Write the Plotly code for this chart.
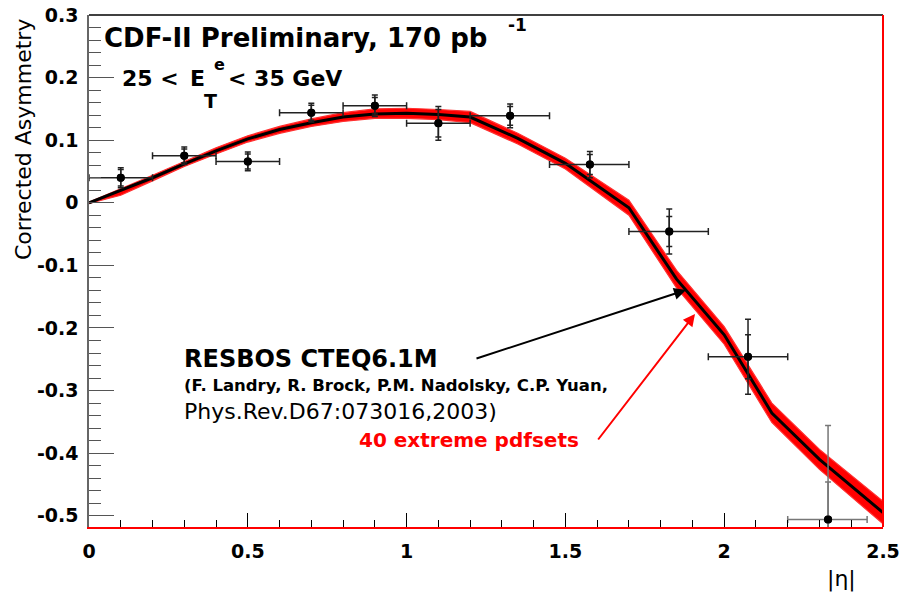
import plotly.graph_objects as go

# ---------------- data ----------------
eta_pts = [0.1, 0.3, 0.5, 0.7, 0.9, 1.1, 1.326, 1.577, 1.827, 2.075, 2.327]
asym_pts = [0.040, 0.075, 0.066, 0.144, 0.155, 0.127, 0.139, 0.061, -0.046, -0.246, -0.506]
bin_lo = [0.0, 0.2, 0.4, 0.6, 0.8, 1.0, 1.2, 1.45, 1.70, 1.95, 2.20]
bin_hi = [0.2, 0.4, 0.6, 0.8, 1.0, 1.2, 1.45, 1.70, 1.95, 2.20, 2.45]
err_tot = [0.016, 0.014, 0.015, 0.015, 0.017, 0.027, 0.019, 0.021, 0.036, 0.060, 0.150]
err_stat = [0.013, 0.011, 0.012, 0.012, 0.013, 0.022, 0.015, 0.016, 0.024, 0.035, 0.060]

curve_eta = [0, 0.1, 0.2, 0.3, 0.4, 0.5, 0.6, 0.7, 0.8, 0.9, 1.0, 1.1, 1.2, 1.35, 1.5, 1.7, 1.85, 2.0, 2.15, 2.3, 2.5]
resbos = [0.0, 0.020, 0.040, 0.062, 0.083, 0.102, 0.117, 0.128, 0.137, 0.142, 0.143, 0.141, 0.137,
          0.103, 0.063, -0.008, -0.122, -0.211, -0.336, -0.410, -0.495]
pdf_upper = [0.001, 0.022, 0.044, 0.066, 0.088, 0.107, 0.122, 0.134, 0.144, 0.150, 0.151, 0.149, 0.146,
             0.111, 0.071, 0.004, -0.108, -0.198, -0.320, -0.394, -0.477]
pdf_lower = [-0.001, 0.012, 0.035, 0.058, 0.078, 0.097, 0.111, 0.122, 0.130, 0.135, 0.135, 0.133, 0.128,
             0.094, 0.054, -0.020, -0.136, -0.226, -0.351, -0.426, -0.513]

xticks = [0, 0.5, 1, 1.5, 2, 2.5]
xtick_text = ["0", "0.5", "1", "1.5", "2", "2.5"]
yticks = [0.3, 0.2, 0.1, 0, -0.1, -0.2, -0.3, -0.4, -0.5]
ytick_text = ["0.3", "0.2", "0.1", "0", "-0.1", "-0.2", "-0.3", "-0.4", "-0.5"]

# ---------------- layout geometry ----------------
W, H = 900, 595
L, R, T, B = 89, 883, 15, 527


def px(x):
    return (x - L) / (R - L)


def py(y):
    return (B - y) / (B - T)


FAM = "DejaVu Sans"
fig = go.Figure()

# red band of 40 pdf sets
fig.add_trace(go.Scatter(x=curve_eta, y=pdf_lower, mode="lines",
                         line=dict(color="#ff3030", width=1.2), showlegend=False, hoverinfo="skip"))
fig.add_trace(go.Scatter(x=curve_eta, y=pdf_upper, mode="lines", fill="tonexty",
                         fillcolor="#ff0000",
                         line=dict(color="#ff3030", width=1.2), showlegend=False, hoverinfo="skip"))
# central RESBOS curve
fig.add_trace(go.Scatter(x=curve_eta, y=resbos, mode="lines",
                         line=dict(color="black", width=3), showlegend=False, hoverinfo="skip"))

# data points
xm = [e - lo for e, lo in zip(eta_pts, bin_lo)]
xp = [hi - e for e, hi in zip(eta_pts, bin_hi)]
n_dark = 10
for sl, col in [(slice(0, n_dark), "#222222"), (slice(n_dark, None), "#777777")]:
    fig.add_trace(go.Scatter(
        x=eta_pts[sl], y=asym_pts[sl], mode="markers",
        marker=dict(color="black", size=8),
        error_x=dict(type="data", array=xp[sl], arrayminus=xm[sl], symmetric=False,
                     color=col, thickness=1.5, width=3.5),
        error_y=dict(type="data", array=err_tot[sl], color=col, thickness=1.5, width=3),
        showlegend=False, hoverinfo="skip", cliponaxis=True))
    fig.add_trace(go.Scatter(
        x=eta_pts[sl], y=asym_pts[sl], mode="markers",
        marker=dict(color="black", size=8),
        error_y=dict(type="data", array=err_stat[sl], color=col, thickness=1.5, width=3),
        showlegend=False, hoverinfo="skip", cliponaxis=True))

ann = []


def text(t, x, y, size, color="black", anchor="left", bold=True):
    ann.append(dict(text=t, x=px(x), y=py(y), xref="paper", yref="paper",
                    xanchor=anchor, yanchor="middle", showarrow=False, borderpad=0,
                    font=dict(family=FAM, size=size, color=color,
                              weight="bold" if bold else "normal")))


text("CDF-II Preliminary, 170 pb", 103, 38, 26)
text("-1", 507, 25, 17)
text("25 <", 121, 78, 22)
text("E", 189, 78, 22)
text("e", 219, 64, 16, anchor="center")
text("T", 210, 101, 19, anchor="center")
text("< 35 GeV", 227, 78, 22)
text("RESBOS CTEQ6.1M", 183, 359, 24)
text("(F. Landry, R. Brock, P.M. Nadolsky, C.P. Yuan,", 183, 385, 16.5)
text("Phys.Rev.D67:073016,2003)", 183, 411, 22, bold=False)
text("40 extreme pdfsets", 358, 440, 20, color="#ff0000")
text("|η|", 841, 579, 22, anchor="center", bold=False)

ann.append(dict(text="Corrected Asymmetry", x=px(23), y=py(140), xref="paper", yref="paper",
                xanchor="center", yanchor="middle", showarrow=False, textangle=-90,
                font=dict(family=FAM, size=22, color="black")))

# arrows
ann.append(dict(text="", x=px(686), y=py(290), xref="paper", yref="paper",
                ax=475 - 686, ay=359 - 290, showarrow=True, arrowhead=2, arrowsize=1.2,
                arrowwidth=2, arrowcolor="black"))
ann.append(dict(text="", x=px(695), y=py(314), xref="paper", yref="paper",
                ax=597 - 695, ay=441 - 314, showarrow=True, arrowhead=2, arrowsize=1.2,
                arrowwidth=2, arrowcolor="#ff0000"))

fig.update_layout(
    width=W, height=H,
    margin=dict(l=L, r=W - R, t=T, b=H - B, pad=0, autoexpand=False),
    paper_bgcolor="white", plot_bgcolor="white",
    annotations=ann,
    shapes=[
        dict(type="line", xref="paper", yref="paper", x0=0, x1=1, y0=1, y1=1,
             line=dict(color="black", width=1.5)),
        dict(type="line", xref="paper", yref="paper", x0=1, x1=1, y0=0, y1=1,
             line=dict(color="#ff0000", width=2)),
    ],
    xaxis=dict(range=[0, 2.5], showgrid=False, zeroline=False, automargin=False,
               showline=True, linecolor="#ff0000", linewidth=2,
               ticks="inside", ticklen=14, tickwidth=1.2, tickcolor="black",
               tickvals=xticks, ticktext=xtick_text,
               minor=dict(ticks="inside", dtick=0.1, ticklen=7, tickcolor="black", tickwidth=1.2),
               tickfont=dict(family=FAM, size=19, color="black", weight="bold"),
               ticklabelstandoff=6),
    yaxis=dict(range=[-0.518, 0.3], showgrid=False, zeroline=False, automargin=False,
               showline=True, linecolor="#666666", linewidth=1.5,
               ticks="inside", ticklen=25, tickwidth=1.2, tickcolor="#555555",
               tickvals=yticks, ticktext=ytick_text,
               minor=dict(ticks="inside", dtick=0.02, tick0=0, ticklen=12, tickcolor="#555555", tickwidth=1.2),
               tickfont=dict(family=FAM, size=19, color="black", weight="bold"),
               ticklabelstandoff=5),
)

fig.write_html("out.html")
